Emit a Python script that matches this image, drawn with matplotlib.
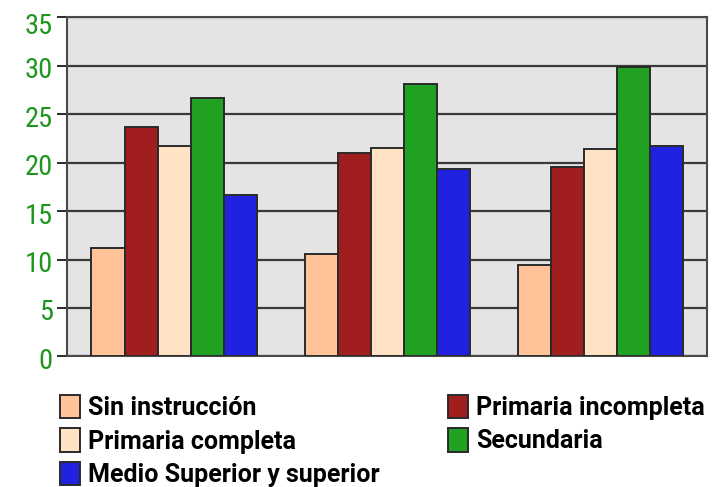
import matplotlib
matplotlib.use("Agg")
import matplotlib.pyplot as plt
import matplotlib.transforms as mtransforms
import numpy as np
from matplotlib import font_manager
from matplotlib.patches import Patch

available = {f.name for f in font_manager.fontManager.ttflist}


def pick(*cands):
    for c in cands:
        if c in available:
            return c
    return "DejaVu Sans"


tick_font = pick("Roboto Condensed", "PT Sans Narrow", "Archivo Narrow", "Liberation Sans Narrow")
legend_font = pick("Roboto", "Noto Sans")
plt.rcParams["font.family"] = [legend_font, "DejaVu Sans"]

groups = ["1", "2", "3"]
series = ["Sin instrucción", "Primaria incompleta", "Primaria completa",
          "Secundaria", "Medio Superior y superior"]
sin_instruccion = [11.2, 10.6, 9.4]
primaria_incompleta = [23.7, 21.0, 19.5]
primaria_completa = [21.7, 21.5, 21.4]
secundaria = [26.7, 28.1, 29.9]
medio_superior = [16.7, 19.3, 21.7]
yticks = [0, 5, 10, 15, 20, 25, 30, 35]

values = [sin_instruccion, primaria_incompleta, primaria_completa,
          secundaria, medio_superior]
colors = ["#FFC299", "#A01E1E", "#FFE3C4", "#21A121", "#2121E0"]
edge = "#2a2a2a"

fig = plt.figure(figsize=(7.12, 4.87), dpi=100)
ax = fig.add_axes([0.0948, 0.268, 0.898, 0.697])
ax.set_facecolor("#E4E4E4")

x = np.arange(len(groups))
w = 0.155
handles = []
for i, (vals, c, name) in enumerate(zip(values, colors, series)):
    ax.bar(x + (i - 2) * w, vals, width=w, color=c, edgecolor=edge,
           linewidth=1.4, zorder=3)
    handles.append(Patch(facecolor=c, edgecolor=edge, linewidth=1.4, label=name))

ax.set_xlim(-0.5, 2.5)
ax.set_ylim(0, 35)
ax.set_yticks(yticks)
ax.set_yticklabels([str(t) for t in yticks], color="#1E961E", fontsize=20.5,
                   family=[tick_font, "DejaVu Sans"])
ax.set_xticks([])
ax.tick_params(axis="y", length=7, width=1.4, color=edge, pad=3.5)
ax.yaxis.grid(True, color="#3a3a3a", linewidth=1.6, zorder=1)
for s in ax.spines.values():
    s.set_color("#4a4a4a")
    s.set_linewidth(1.5)

# nudge the tick labels slightly downward; keep the top one inside the canvas
for lab, t in zip(ax.get_yticklabels(), yticks):
    dy = -6 if t == yticks[-1] else -2
    lab.set_transform(lab.get_transform() +
                      mtransforms.ScaledTranslation(0, dy / 100, fig.dpi_scale_trans))

order = [0, 2, 4, 1, 3]
fig.legend([handles[i] for i in order], [series[i] for i in order],
           ncol=2, loc="upper left", bbox_to_anchor=(60 / 712, 1 - 395 / 487),
           frameon=False, prop={"family": [legend_font, "DejaVu Sans"],
                                "weight": "bold", "size": 18},
           handlelength=0.8, handleheight=1.05,
           handletextpad=0.33, columnspacing=2.72, labelspacing=0.33,
           borderpad=0, borderaxespad=0)

fig.savefig("out.png", dpi=100)
